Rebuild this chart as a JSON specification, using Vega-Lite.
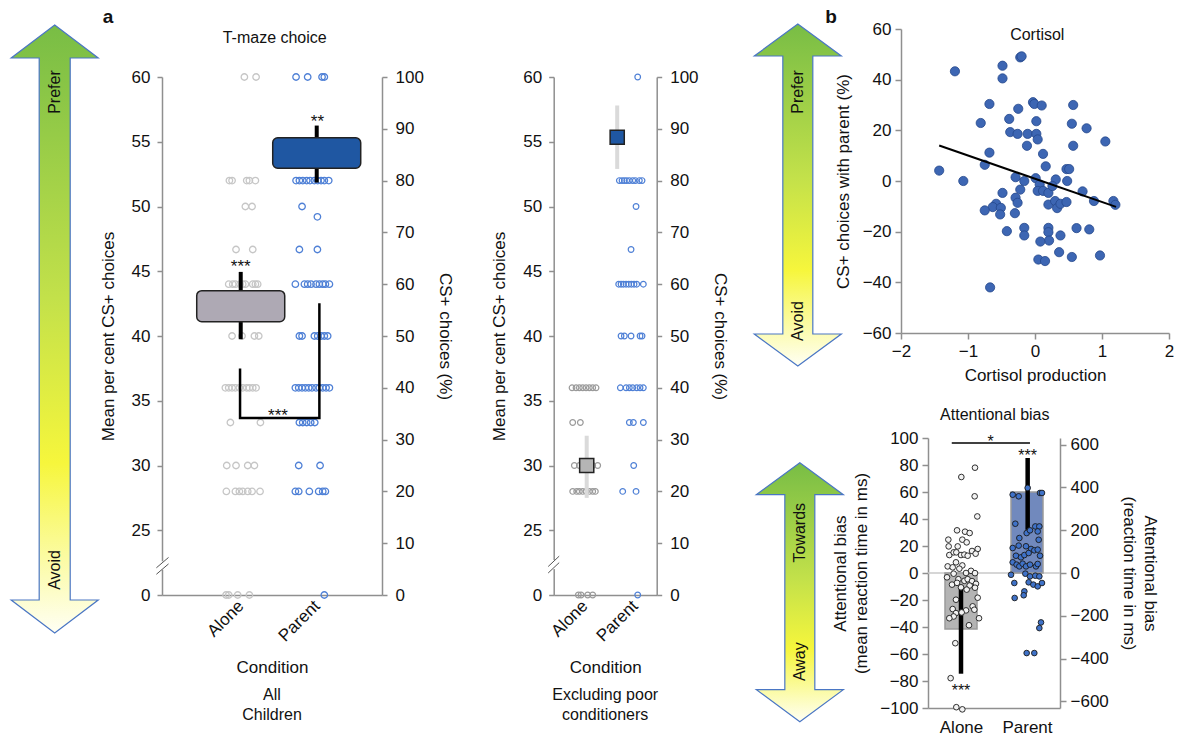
{
"$schema":"https://vega.github.io/schema/vega-lite/v6.json",
"background":"white",
"padding":{"left":8,"top":7,"right":0,"bottom":0},
"config":{
 "font":"Liberation Sans",
 "view":{"stroke":null},
 "axis":{"grid":false,"labelFontSize":17,"titleFontSize":17,"titleFontWeight":"normal","labelColor":"#111","titleColor":"#111","domainColor":"#8f8f8f","tickColor":"#8f8f8f","domainWidth":1.5,"tickWidth":1.5,"tickSize":6,"labelPadding":4,"labelFlush":false,"labelOverlap":false,"titleLineHeight":21},
 "title":{"fontWeight":"normal","fontSize":16,"color":"#111"},
 "text":{"font":"Liberation Sans","color":"#111"}
},
"datasets":{
 "a1dots":[
  {"cond":"Alone","x":1.048,"pct":100},{"cond":"Alone","x":1.202,"pct":100},
  {"cond":"Alone","x":0.851,"pct":80},{"cond":"Alone","x":0.886,"pct":80},{"cond":"Alone","x":1.079,"pct":80},{"cond":"Alone","x":1.114,"pct":80},{"cond":"Alone","x":1.193,"pct":80},
  {"cond":"Alone","x":1.061,"pct":75},{"cond":"Alone","x":1.149,"pct":75},
  {"cond":"Alone","x":0.938,"pct":66.7},{"cond":"Alone","x":1.158,"pct":66.7},
  {"cond":"Alone","x":0.842,"pct":60},{"cond":"Alone","x":0.895,"pct":60},{"cond":"Alone","x":0.93,"pct":60},{"cond":"Alone","x":0.991,"pct":60},{"cond":"Alone","x":1.026,"pct":60},{"cond":"Alone","x":1.061,"pct":60},{"cond":"Alone","x":1.158,"pct":60},{"cond":"Alone","x":1.193,"pct":60},{"cond":"Alone","x":1.223,"pct":60},
  {"cond":"Alone","x":0.886,"pct":50},{"cond":"Alone","x":1.017,"pct":50},{"cond":"Alone","x":1.18,"pct":50},{"cond":"Alone","x":1.237,"pct":50},
  {"cond":"Alone","x":0.798,"pct":40},{"cond":"Alone","x":0.842,"pct":40},{"cond":"Alone","x":0.886,"pct":40},{"cond":"Alone","x":0.93,"pct":40},{"cond":"Alone","x":0.982,"pct":40},{"cond":"Alone","x":1.026,"pct":40},{"cond":"Alone","x":1.079,"pct":40},{"cond":"Alone","x":1.114,"pct":40},{"cond":"Alone","x":1.158,"pct":40},{"cond":"Alone","x":1.202,"pct":40},
  {"cond":"Alone","x":0.864,"pct":33.3},{"cond":"Alone","x":1.259,"pct":33.3},
  {"cond":"Alone","x":0.816,"pct":25},{"cond":"Alone","x":0.938,"pct":25},{"cond":"Alone","x":1.092,"pct":25},{"cond":"Alone","x":1.18,"pct":25},
  {"cond":"Alone","x":0.811,"pct":20},{"cond":"Alone","x":0.93,"pct":20},{"cond":"Alone","x":0.982,"pct":20},{"cond":"Alone","x":1.026,"pct":20},{"cond":"Alone","x":1.092,"pct":20},{"cond":"Alone","x":1.149,"pct":20},{"cond":"Alone","x":1.254,"pct":20},
  {"cond":"Alone","x":0.807,"pct":0},{"cond":"Alone","x":0.842,"pct":0},{"cond":"Alone","x":0.96,"pct":0},{"cond":"Alone","x":1.114,"pct":0},
  {"cond":"Parent","x":1.728,"pct":100},{"cond":"Parent","x":1.881,"pct":100},{"cond":"Parent","x":2.07,"pct":100},{"cond":"Parent","x":2.1,"pct":100},
  {"cond":"Parent","x":1.728,"pct":80},{"cond":"Parent","x":1.772,"pct":80},{"cond":"Parent","x":1.816,"pct":80},{"cond":"Parent","x":1.868,"pct":80},{"cond":"Parent","x":1.912,"pct":80},{"cond":"Parent","x":1.969,"pct":80},{"cond":"Parent","x":2.013,"pct":80},{"cond":"Parent","x":2.057,"pct":80},{"cond":"Parent","x":2.1,"pct":80},{"cond":"Parent","x":2.158,"pct":80},
  {"cond":"Parent","x":1.807,"pct":75},{"cond":"Parent","x":2.009,"pct":73},
  {"cond":"Parent","x":1.772,"pct":66.7},{"cond":"Parent","x":2.009,"pct":66.7},
  {"cond":"Parent","x":1.719,"pct":60},{"cond":"Parent","x":1.838,"pct":60},{"cond":"Parent","x":1.881,"pct":60},{"cond":"Parent","x":1.925,"pct":60},{"cond":"Parent","x":1.991,"pct":60},{"cond":"Parent","x":2.035,"pct":60},{"cond":"Parent","x":2.079,"pct":60},{"cond":"Parent","x":2.114,"pct":60},{"cond":"Parent","x":2.167,"pct":60},
  {"cond":"Parent","x":1.772,"pct":50},{"cond":"Parent","x":1.807,"pct":50},{"cond":"Parent","x":1.969,"pct":50},{"cond":"Parent","x":2.013,"pct":50},{"cond":"Parent","x":2.057,"pct":50},{"cond":"Parent","x":2.1,"pct":50},{"cond":"Parent","x":2.144,"pct":50},
  {"cond":"Parent","x":1.719,"pct":40},{"cond":"Parent","x":1.763,"pct":40},{"cond":"Parent","x":1.807,"pct":40},{"cond":"Parent","x":1.851,"pct":40},{"cond":"Parent","x":1.895,"pct":40},{"cond":"Parent","x":1.938,"pct":40},{"cond":"Parent","x":1.991,"pct":40},{"cond":"Parent","x":2.035,"pct":40},{"cond":"Parent","x":2.079,"pct":40},{"cond":"Parent","x":2.123,"pct":40},{"cond":"Parent","x":2.167,"pct":40},
  {"cond":"Parent","x":1.772,"pct":33.3},{"cond":"Parent","x":1.816,"pct":33.3},{"cond":"Parent","x":1.868,"pct":33.3},{"cond":"Parent","x":1.921,"pct":33.3},{"cond":"Parent","x":1.974,"pct":33.3},
  {"cond":"Parent","x":1.763,"pct":25},{"cond":"Parent","x":2.044,"pct":25},
  {"cond":"Parent","x":1.719,"pct":20},{"cond":"Parent","x":1.763,"pct":20},{"cond":"Parent","x":1.903,"pct":20},{"cond":"Parent","x":2.026,"pct":20},{"cond":"Parent","x":2.079,"pct":20},{"cond":"Parent","x":2.114,"pct":20},
  {"cond":"Parent","x":2.1,"pct":0}
 ],
 "a1means":[
  {"cond":"Alone","x":1,"lo":41.1,"hi":43.5,"elo":39.75,"ehi":44.95},
  {"cond":"Parent","x":2,"lo":52.95,"hi":55.3,"elo":51.85,"ehi":56.25}
 ],
 "a1bracket":[{"x":0.991,"y":37.5,"o":1},{"x":0.991,"y":33.66,"o":2},{"x":2.035,"y":33.66,"o":3},{"x":2.035,"y":42.53,"o":4}],
 "a1stars":[{"x":1,"y":44.95,"t":"***"},{"x":2.01,"y":56.17,"t":"**"},{"x":1.49,"y":33.45,"t":"***"}],
 "a2dots":[
  {"cond":"Alone","x":0.747,"pct":40},{"cond":"Alone","x":0.827,"pct":40},{"cond":"Alone","x":0.893,"pct":40},{"cond":"Alone","x":0.96,"pct":40},{"cond":"Alone","x":1.027,"pct":40},{"cond":"Alone","x":1.093,"pct":40},{"cond":"Alone","x":1.16,"pct":40},{"cond":"Alone","x":1.227,"pct":40},
  {"cond":"Alone","x":0.76,"pct":33.3},{"cond":"Alone","x":0.913,"pct":33.3},
  {"cond":"Alone","x":0.793,"pct":25},{"cond":"Alone","x":0.893,"pct":25},{"cond":"Alone","x":0.96,"pct":25},{"cond":"Alone","x":1.16,"pct":25},{"cond":"Alone","x":1.26,"pct":25},
  {"cond":"Alone","x":0.76,"pct":20},{"cond":"Alone","x":0.84,"pct":20},{"cond":"Alone","x":0.893,"pct":20},{"cond":"Alone","x":0.96,"pct":20},{"cond":"Alone","x":1.027,"pct":20},{"cond":"Alone","x":1.093,"pct":20},{"cond":"Alone","x":1.16,"pct":20},{"cond":"Alone","x":1.213,"pct":20},
  {"cond":"Alone","x":0.873,"pct":0},{"cond":"Alone","x":0.927,"pct":0},{"cond":"Alone","x":1.06,"pct":0},{"cond":"Alone","x":1.16,"pct":0},
  {"cond":"Parent","x":2.06,"pct":100},
  {"cond":"Parent","x":1.693,"pct":80},{"cond":"Parent","x":1.747,"pct":80},{"cond":"Parent","x":1.793,"pct":80},{"cond":"Parent","x":1.84,"pct":80},{"cond":"Parent","x":1.893,"pct":80},{"cond":"Parent","x":1.96,"pct":80},{"cond":"Parent","x":2.013,"pct":80},{"cond":"Parent","x":2.093,"pct":80},{"cond":"Parent","x":2.147,"pct":80},
  {"cond":"Parent","x":2.027,"pct":75},{"cond":"Parent","x":1.927,"pct":66.7},
  {"cond":"Parent","x":1.68,"pct":60},{"cond":"Parent","x":1.727,"pct":60},{"cond":"Parent","x":1.773,"pct":60},{"cond":"Parent","x":1.827,"pct":60},{"cond":"Parent","x":1.88,"pct":60},{"cond":"Parent","x":1.933,"pct":60},{"cond":"Parent","x":1.987,"pct":60},{"cond":"Parent","x":2.04,"pct":60},{"cond":"Parent","x":2.173,"pct":60},
  {"cond":"Parent","x":1.727,"pct":50},{"cond":"Parent","x":1.793,"pct":50},{"cond":"Parent","x":1.927,"pct":50},{"cond":"Parent","x":2.107,"pct":50},{"cond":"Parent","x":2.147,"pct":50},
  {"cond":"Parent","x":1.713,"pct":40},{"cond":"Parent","x":1.827,"pct":40},{"cond":"Parent","x":1.893,"pct":40},{"cond":"Parent","x":1.96,"pct":40},{"cond":"Parent","x":2.04,"pct":40},{"cond":"Parent","x":2.107,"pct":40},{"cond":"Parent","x":2.173,"pct":40},
  {"cond":"Parent","x":1.893,"pct":33.3},{"cond":"Parent","x":1.973,"pct":33.3},{"cond":"Parent","x":2.173,"pct":33.3},
  {"cond":"Parent","x":1.98,"pct":25},
  {"cond":"Parent","x":1.76,"pct":20},{"cond":"Parent","x":2.027,"pct":20},
  {"cond":"Parent","x":2.06,"pct":0}
 ],
 "a2means":[
  {"cond":"Alone","x":1.04,"m":30.0,"elo":27.5,"ehi":32.3},
  {"cond":"Parent","x":1.65,"m":55.35,"elo":52.9,"ehi":57.8}
 ],
 "cort":[
  {"x":-1.195,"y":43.3},{"x":-0.485,"y":45.5},{"x":-0.485,"y":40.5},{"x":-0.22,"y":48.8},{"x":-0.2,"y":49.2},{"x":-0.68,"y":30.4},{"x":-0.03,"y":31.1},{"x":-0.01,"y":30.4},{"x":0.1,"y":29.8},{"x":0.57,"y":30.0},
  {"x":-0.25,"y":28.5},{"x":-0.385,"y":24.5},{"x":-0.81,"y":22.9},{"x":0.02,"y":23.6},{"x":0.55,"y":22.6},{"x":0.77,"y":20.8},{"x":-0.37,"y":19.3},{"x":-0.26,"y":18.6},{"x":-0.11,"y":18.6},{"x":0.02,"y":18.6},
  {"x":0.04,"y":16.4},{"x":-0.12,"y":13.9},{"x":0.57,"y":13.9},{"x":1.05,"y":15.6},{"x":-0.68,"y":11.2},{"x":0.12,"y":10.7},{"x":-0.75,"y":6.4},{"x":0.16,"y":5.8},{"x":-1.43,"y":4.1},{"x":0.47,"y":4.7},
  {"x":0.51,"y":4.7},{"x":-1.07,"y":0},{"x":-0.29,"y":1.5},{"x":-0.16,"y":0},{"x":0.01,"y":1.1},{"x":0.07,"y":-1.4},{"x":0.31,"y":0.6},{"x":0.48,"y":0},{"x":-0.22,"y":-3.4},{"x":0.04,"y":-3.9},
  {"x":0.12,"y":-3.9},{"x":0.2,"y":-4.7},{"x":0.26,"y":-2.0},{"x":0.71,"y":-4.1},{"x":-0.485,"y":-4.7},{"x":-0.29,"y":-6.6},{"x":-0.26,"y":-8.6},{"x":-0.58,"y":-9.0},{"x":-0.63,"y":-10.3},{"x":-0.51,"y":-10.6},
  {"x":-0.75,"y":-11.6},{"x":-0.52,"y":-13.2},{"x":-0.3,"y":-12.7},{"x":0.2,"y":-9.3},{"x":0.3,"y":-7.9},{"x":0.33,"y":-10.7},{"x":0.38,"y":-9.0},{"x":0.47,"y":-8.3},{"x":0.88,"y":-7.9},{"x":1.17,"y":-7.9},
  {"x":1.2,"y":-9.4},{"x":-0.42,"y":-19.8},{"x":-0.16,"y":-18.5},{"x":-0.16,"y":-21.5},{"x":0.2,"y":-18.5},{"x":0.2,"y":-20.2},{"x":0.21,"y":-23.5},{"x":0.08,"y":-23.9},{"x":0.38,"y":-21.5},{"x":0.62,"y":-18.6},
  {"x":0.81,"y":-19.1},{"x":0.36,"y":-28.1},{"x":0.55,"y":-30.0},{"x":0.97,"y":-29.4},{"x":0.05,"y":-31.0},{"x":0.15,"y":-31.6},{"x":-0.67,"y":-42.0}
 ],
 "attndots":[
  {"cond":"Alone","x":1.005,"v":71.1},{"cond":"Alone","x":1.212,"v":78},{"cond":"Alone","x":1.207,"v":56.8},{"cond":"Alone","x":1.247,"v":41.9},{"cond":"Alone","x":0.808,"v":24.7},{"cond":"Alone","x":0.94,"v":31.6},{"cond":"Alone","x":1.061,"v":30.6},{"cond":"Alone","x":1.131,"v":29.6},{"cond":"Alone","x":1.02,"v":24.7},{"cond":"Alone","x":1.086,"v":22.7},
  {"cond":"Alone","x":0.813,"v":19.7},{"cond":"Alone","x":0.95,"v":19.7},{"cond":"Alone","x":1.253,"v":17.8},{"cond":"Alone","x":1.167,"v":16.3},{"cond":"Alone","x":0.823,"v":13.3},{"cond":"Alone","x":0.889,"v":15.3},{"cond":"Alone","x":0.929,"v":15.3},{"cond":"Alone","x":1.0,"v":13.3},{"cond":"Alone","x":1.051,"v":13.6},{"cond":"Alone","x":1.101,"v":12.8},
  {"cond":"Alone","x":1.222,"v":14.3},{"cond":"Alone","x":0.924,"v":7.9},{"cond":"Alone","x":0.798,"v":4.9},{"cond":"Alone","x":0.874,"v":4.2},{"cond":"Alone","x":1.02,"v":5.6},{"cond":"Alone","x":0.975,"v":3.2},{"cond":"Alone","x":1.152,"v":1.6},{"cond":"Alone","x":0.788,"v":-3.2},{"cond":"Alone","x":0.889,"v":-0.5},{"cond":"Alone","x":1.076,"v":0},
  {"cond":"Alone","x":1.212,"v":-0.1},{"cond":"Alone","x":0.96,"v":-4.6},{"cond":"Alone","x":1.051,"v":-5.8},{"cond":"Alone","x":1.101,"v":-4.6},{"cond":"Alone","x":1.167,"v":-6.0},{"cond":"Alone","x":0.864,"v":-8.6},{"cond":"Alone","x":0.94,"v":-7.3},{"cond":"Alone","x":1.131,"v":-9.3},{"cond":"Alone","x":1.227,"v":-8},{"cond":"Alone","x":1.0,"v":-10.6},
  {"cond":"Alone","x":1.086,"v":-12.3},{"cond":"Alone","x":1.212,"v":-10.9},{"cond":"Alone","x":1.253,"v":-18.3},{"cond":"Alone","x":0.924,"v":-19.8},{"cond":"Alone","x":0.874,"v":-26.7},{"cond":"Alone","x":1.177,"v":-24.7},{"cond":"Alone","x":1.202,"v":-27.2},{"cond":"Alone","x":1.076,"v":-27.7},{"cond":"Alone","x":0.924,"v":-29.7},{"cond":"Alone","x":1.01,"v":-29.2},
  {"cond":"Alone","x":0.889,"v":-32.2},{"cond":"Alone","x":0.823,"v":-33.5},{"cond":"Alone","x":1.273,"v":-33.5},{"cond":"Alone","x":1.121,"v":-38.7},{"cond":"Alone","x":0.914,"v":-52},{"cond":"Alone","x":0.843,"v":-77.9},{"cond":"Alone","x":0.929,"v":-99.4},{"cond":"Alone","x":1.02,"v":-101},
  {"cond":"Parent","x":2.01,"v":63},{"cond":"Parent","x":1.783,"v":58},{"cond":"Parent","x":1.874,"v":56.8},{"cond":"Parent","x":2.197,"v":59.3},{"cond":"Parent","x":2.227,"v":59.3},{"cond":"Parent","x":1.823,"v":36.5},{"cond":"Parent","x":1.884,"v":25.9},{"cond":"Parent","x":1.995,"v":29.6},{"cond":"Parent","x":2.045,"v":31.6},{"cond":"Parent","x":2.126,"v":34.5},
  {"cond":"Parent","x":2.187,"v":34.5},{"cond":"Parent","x":2.162,"v":30.8},{"cond":"Parent","x":2.177,"v":24.6},{"cond":"Parent","x":1.783,"v":18.5},{"cond":"Parent","x":1.874,"v":20.3},{"cond":"Parent","x":1.985,"v":19.8},{"cond":"Parent","x":2.061,"v":17.8},{"cond":"Parent","x":2.111,"v":16.8},{"cond":"Parent","x":2.162,"v":17.3},{"cond":"Parent","x":2.197,"v":12.8},
  {"cond":"Parent","x":1.833,"v":12.8},{"cond":"Parent","x":1.909,"v":11.6},{"cond":"Parent","x":1.96,"v":13.3},{"cond":"Parent","x":2.025,"v":14.8},{"cond":"Parent","x":1.783,"v":7.9},{"cond":"Parent","x":1.843,"v":6.2},{"cond":"Parent","x":1.884,"v":4.9},{"cond":"Parent","x":1.934,"v":6.9},{"cond":"Parent","x":1.985,"v":4.9},{"cond":"Parent","x":2.045,"v":6.2},
  {"cond":"Parent","x":2.136,"v":4.9},{"cond":"Parent","x":2.162,"v":6.7},{"cond":"Parent","x":1.758,"v":-1.3},{"cond":"Parent","x":1.975,"v":-0.5},{"cond":"Parent","x":2.045,"v":-2.5},{"cond":"Parent","x":2.126,"v":-2.0},{"cond":"Parent","x":2.187,"v":-2.5},{"cond":"Parent","x":1.808,"v":-7.4},{"cond":"Parent","x":2.025,"v":-6.9},{"cond":"Parent","x":2.096,"v":-8.6},
  {"cond":"Parent","x":2.162,"v":-9.9},{"cond":"Parent","x":2.227,"v":-7.4},{"cond":"Parent","x":1.96,"v":-13.6},{"cond":"Parent","x":1.95,"v":-16.5},{"cond":"Parent","x":1.813,"v":-18.5},{"cond":"Parent","x":2.212,"v":-36.6},{"cond":"Parent","x":2.187,"v":-40.8},{"cond":"Parent","x":1.995,"v":-59.3},{"cond":"Parent","x":2.111,"v":-59.3}
 ]
},
"spacing":22,
"hconcat":[
 {
  "spacing":-27,
  "vconcat":[
   {
    "width":220,"height":20,
    "layer":[
     {"data":{"values":[{"x":-0.816,"y":1.3,"t":"a"}]},
      "mark":{"type":"text","fontSize":19,"fontWeight":"bold","baseline":"alphabetic","align":"left"},
      "encoding":{
       "x":{"field":"x","type":"quantitative","scale":{"domain":[-0.036,2.859],"nice":false,"zero":false,"padding":0},"axis":null},
       "y":{"field":"y","type":"quantitative","scale":{"domain":[0,1],"nice":false},"axis":null},
       "text":{"field":"t"}}},
     {"data":{"values":[{"x":1.447,"y":0.3,"t":"T-maze choice"}]},
      "mark":{"type":"text","fontSize":16,"baseline":"alphabetic","align":"center"},
      "encoding":{
       "x":{"field":"x","type":"quantitative","scale":{"domain":[-0.036,2.859],"nice":false,"zero":false,"padding":0},"axis":null},
       "y":{"field":"y","type":"quantitative","scale":{"domain":[0,1],"nice":false},"axis":null},
       "text":{"field":"t"}}}
    ]
   },
   {
    "bounds":"flush","spacing":171.7,
    "hconcat":[
     {
      "width":220,"height":518,
      "title":{"text":["All","Children"],"orient":"bottom","frame":"group","fontSize":16,"lineHeight":20,"baseline":"top","offset":12},
      "resolve":{"scale":{"y":"independent"}},
      "layer":[
       {"data":{"name":"a1dots"},
        "mark":{"type":"point","size":42,"strokeWidth":1.3,"filled":false,"opacity":1},
        "encoding":{
         "x":{"field":"x","type":"quantitative","scale":{"domain":[-0.036,2.859],"nice":false,"zero":false,"padding":0},"axis":{"values":[1,2],"labelExpr":"datum.value == 1 ? 'Alone' : 'Parent'","labelAngle":-45,"labelAlign":"right","labelBaseline":"middle","ticks":false,"labelPadding":8,"title":"Condition","titleY":64,"titleBaseline":"top"}},
         "y":{"field":"pct","type":"quantitative","scale":{"domain":[0,100],"nice":false,"zero":false},"axis":{"orient":"right","values":[0,10,20,30,40,50,60,70,80,90,100],"tickCount":11,"title":"CS+ choices (%)","tickSize":5,"labelPadding":8,"titlePadding":12}},
         "stroke":{"condition":{"test":"datum.cond == 'Alone'","value":"#c6c6c6"},"value":"#4f80d6"}
        }},
       {"layer":[
         {"data":{"name":"a1means"},
          "mark":{"type":"rule","strokeWidth":4,"color":"#000"},
          "encoding":{
           "x":{"field":"x","type":"quantitative","scale":{"domain":[-0.036,2.859],"nice":false,"zero":false,"padding":0}},
           "y":{"field":"elo","type":"quantitative","scale":{"domain":[20,60],"nice":false,"zero":false},"axis":{"orient":"left","values":[20,25,30,35,40,45,50,55,60],"tickCount":9,"labelExpr":"datum.value == 20 ? '0' : datum.label","title":"Mean per cent CS+ choices","tickSize":5,"labelPadding":7,"titlePadding":14}},
           "y2":{"field":"ehi"}}},
         {"data":{"name":"a1means"},
          "mark":{"type":"bar","size":88,"cornerRadius":5,"stroke":"#222","strokeWidth":1.5},
          "encoding":{
           "x":{"field":"x","type":"quantitative","scale":{"domain":[-0.036,2.859],"nice":false,"zero":false,"padding":0}},
           "y":{"field":"lo","type":"quantitative","scale":{"domain":[20,60],"nice":false,"zero":false}},
           "y2":{"field":"hi"},
           "fill":{"condition":{"test":"datum.cond == 'Alone'","value":"#aea9b4"},"value":"#1f57a2"}}},
         {"data":{"name":"a1bracket"},
          "mark":{"type":"line","color":"#000","strokeWidth":2.5},
          "encoding":{
           "x":{"field":"x","type":"quantitative","scale":{"domain":[-0.036,2.859],"nice":false,"zero":false,"padding":0}},
           "y":{"field":"y","type":"quantitative","scale":{"domain":[20,60],"nice":false,"zero":false}},
           "order":{"field":"o"}}},
         {"data":{"name":"a1stars"},
          "mark":{"type":"text","fontSize":17,"baseline":"alphabetic"},
          "encoding":{
           "x":{"field":"x","type":"quantitative","scale":{"domain":[-0.036,2.859],"nice":false,"zero":false,"padding":0}},
           "y":{"field":"y","type":"quantitative","scale":{"domain":[20,60],"nice":false,"zero":false}},
           "text":{"field":"t"}}},
         {"data":{"values":[{"x1":-0.036,"x2":-0.036,"y1":21.95,"y2":22.6}]},
          "mark":{"type":"rule","color":"white","strokeWidth":4},
          "encoding":{
           "x":{"field":"x1","type":"quantitative","scale":{"domain":[-0.036,2.859],"nice":false,"zero":false,"padding":0}},"x2":{"field":"x2"},
           "y":{"field":"y1","type":"quantitative","scale":{"domain":[20,60],"nice":false,"zero":false}},"y2":{"field":"y2"}}},
         {"data":{"values":[{"x1":-0.11,"x2":0.05,"y1":21.6,"y2":22.4},{"x1":-0.11,"x2":0.05,"y1":22.1,"y2":22.9}]},
          "mark":{"type":"rule","color":"#555","strokeWidth":1},
          "encoding":{
           "x":{"field":"x1","type":"quantitative","scale":{"domain":[-0.036,2.859],"nice":false,"zero":false,"padding":0}},"x2":{"field":"x2"},
           "y":{"field":"y1","type":"quantitative","scale":{"domain":[20,60],"nice":false,"zero":false}},"y2":{"field":"y2"}}},
         {"data":{"values":[{"x":-1.448,"y":40.54}]},
          "mark":{"type":"point","shape":"M0,-1L0.1431,-0.8914L0.051,-0.8914L0.051,0.8914L0.1431,0.8914L0,1L-0.1431,0.8914L-0.051,0.8914L-0.051,-0.8914L-0.1431,-0.8914Z","size":369664,"filled":true,"opacity":1,"fill":{"gradient":"linear","x1":0,"y1":0,"x2":0,"y2":1,"stops":[{"offset":0,"color":"#78bd45"},{"offset":0.45,"color":"#c3e14a"},{"offset":0.72,"color":"#f6f63c"},{"offset":1,"color":"#fffff4"}]},"stroke":"#4a76c4","strokeWidth":1.2},
          "encoding":{
           "x":{"field":"x","type":"quantitative","scale":{"domain":[-0.036,2.859],"nice":false,"zero":false,"padding":0}},
           "y":{"field":"y","type":"quantitative","scale":{"domain":[20,60],"nice":false,"zero":false}}}},
         {"data":{"values":[{"x":-1.448,"y":58.84,"label":"Prefer"},{"x":-1.448,"y":21.93,"label":"Avoid"}]},
          "mark":{"type":"text","angle":270,"fontSize":16,"baseline":"middle","align":"center"},
          "encoding":{
           "x":{"field":"x","type":"quantitative","scale":{"domain":[-0.036,2.859],"nice":false,"zero":false,"padding":0}},
           "y":{"field":"y","type":"quantitative","scale":{"domain":[20,60],"nice":false,"zero":false}},
           "text":{"field":"label"}}}
       ]}
      ]
     },
     {
      "width":103,"height":518,
      "title":{"text":["Excluding poor","conditioners"],"orient":"bottom","frame":"group","fontSize":16,"lineHeight":20,"baseline":"top","offset":12},
      "resolve":{"scale":{"y":"independent"}},
      "layer":[
       {"data":{"name":"a2dots"},
        "mark":{"type":"point","size":32,"strokeWidth":1.2,"filled":false,"opacity":1},
        "encoding":{
         "x":{"field":"x","type":"quantitative","scale":{"domain":[0.38,2.44],"nice":false,"zero":false,"padding":0},"axis":{"values":[1,2],"labelExpr":"datum.value == 1 ? 'Alone' : 'Parent'","labelAngle":-45,"labelAlign":"right","labelBaseline":"middle","ticks":false,"labelPadding":8,"title":"Condition","titleY":64,"titleBaseline":"top"}},
         "y":{"field":"pct","type":"quantitative","scale":{"domain":[0,100],"nice":false,"zero":false},"axis":{"orient":"right","values":[0,10,20,30,40,50,60,70,80,90,100],"tickCount":11,"title":"CS+ choices (%)","tickSize":5,"labelPadding":8,"titlePadding":12}},
         "stroke":{"condition":{"test":"datum.cond == 'Alone'","value":"#9a9a9a"},"value":"#4f80d6"}
        }},
       {"layer":[
         {"data":{"name":"a2means"},
          "mark":{"type":"rule","strokeWidth":4,"color":"#dadada"},
          "encoding":{
           "x":{"field":"x","type":"quantitative","scale":{"domain":[0.38,2.44],"nice":false,"zero":false,"padding":0}},
           "y":{"field":"elo","type":"quantitative","scale":{"domain":[20,60],"nice":false,"zero":false},"axis":{"orient":"left","values":[20,25,30,35,40,45,50,55,60],"tickCount":9,"labelExpr":"datum.value == 20 ? '0' : datum.label","title":"Mean per cent CS+ choices","tickSize":5,"labelPadding":7,"titlePadding":14}},
           "y2":{"field":"ehi"}}},
         {"data":{"name":"a2means"},
          "mark":{"type":"point","shape":"square","size":200,"filled":true,"opacity":1,"stroke":"#222","strokeWidth":1.5},
          "encoding":{
           "x":{"field":"x","type":"quantitative","scale":{"domain":[0.38,2.44],"nice":false,"zero":false,"padding":0}},
           "y":{"field":"m","type":"quantitative","scale":{"domain":[20,60],"nice":false,"zero":false}},
           "fill":{"condition":{"test":"datum.cond == 'Alone'","value":"#b5b5b5"},"value":"#1f57a2"}}},
         {"data":{"values":[{"x1":0.38,"x2":0.38,"y1":22.0,"y2":22.7}]},
          "mark":{"type":"rule","color":"white","strokeWidth":4},
          "encoding":{
           "x":{"field":"x1","type":"quantitative","scale":{"domain":[0.38,2.44],"nice":false,"zero":false,"padding":0}},"x2":{"field":"x2"},
           "y":{"field":"y1","type":"quantitative","scale":{"domain":[20,60],"nice":false,"zero":false}},"y2":{"field":"y2"}}},
         {"data":{"values":[{"x1":0.27,"x2":0.49,"y1":21.7,"y2":22.5},{"x1":0.27,"x2":0.49,"y1":22.2,"y2":23.0}]},
          "mark":{"type":"rule","color":"#555","strokeWidth":1},
          "encoding":{
           "x":{"field":"x1","type":"quantitative","scale":{"domain":[0.38,2.44],"nice":false,"zero":false,"padding":0}},"x2":{"field":"x2"},
           "y":{"field":"y1","type":"quantitative","scale":{"domain":[20,60],"nice":false,"zero":false}},"y2":{"field":"y2"}}}
       ]}
      ]
     }
    ]
   }
  ]
 },
 {
  "spacing":23,
  "vconcat":[
   {
    "width":268,"height":304,
    "layer":[
     {"data":{"name":"cort"},
      "mark":{"type":"point","filled":true,"size":85,"fill":"#3d66b3","stroke":"#24488c","strokeWidth":0.8,"opacity":1},
      "encoding":{
       "x":{"field":"x","type":"quantitative","scale":{"domain":[-2,2],"nice":false},"axis":{"values":[-2,-1,0,1,2],"tickCount":5,"format":"d","title":"Cortisol production","titlePadding":8}},
       "y":{"field":"y","type":"quantitative","scale":{"domain":[-60,60],"nice":false},"axis":{"values":[-60,-40,-20,0,20,40,60],"tickCount":7,"format":"d","title":"CS+ choices with parent (%)","titlePadding":10}}}},
     {"data":{"values":[{"x":-1.43,"y":14.0},{"x":1.21,"y":-10.2}]},
      "mark":{"type":"line","color":"#000","strokeWidth":2},
      "encoding":{
       "x":{"field":"x","type":"quantitative","scale":{"domain":[-2,2],"nice":false}},
       "y":{"field":"y","type":"quantitative","scale":{"domain":[-60,60],"nice":false}}}},
     {"data":{"values":[{"x":-3.54,"y":-5.53}]},
      "mark":{"type":"point","shape":"M0,-1L0.2544,-0.8129L0.0877,-0.8129L0.0877,0.8129L0.2544,0.8129L0,1L-0.2544,0.8129L-0.0877,0.8129L-0.0877,-0.8129L-0.2544,-0.8129Z","size":116964,"filled":true,"opacity":1,"fill":{"gradient":"linear","x1":0,"y1":0,"x2":0,"y2":1,"stops":[{"offset":0,"color":"#78bd45"},{"offset":0.45,"color":"#c3e14a"},{"offset":0.72,"color":"#f6f63c"},{"offset":1,"color":"#fffff4"}]},"stroke":"#4a76c4","strokeWidth":1.2},
      "encoding":{
       "x":{"field":"x","type":"quantitative","scale":{"domain":[-2,2],"nice":false}},
       "y":{"field":"y","type":"quantitative","scale":{"domain":[-60,60],"nice":false}}}},
     {"data":{"values":[{"x":-3.54,"y":35.13,"label":"Prefer"},{"x":-3.54,"y":-55.28,"label":"Avoid"}]},
      "mark":{"type":"text","angle":270,"fontSize":16,"baseline":"middle","align":"center"},
      "encoding":{
       "x":{"field":"x","type":"quantitative","scale":{"domain":[-2,2],"nice":false}},
       "y":{"field":"y","type":"quantitative","scale":{"domain":[-60,60],"nice":false}},
       "text":{"field":"label"}}},
     {"data":{"values":[{"x":-3.13,"y":62.37,"t":"b"}]},
      "mark":{"type":"text","fontSize":19,"fontWeight":"bold","baseline":"alphabetic","align":"left"},
      "encoding":{
       "x":{"field":"x","type":"quantitative","scale":{"domain":[-2,2],"nice":false}},
       "y":{"field":"y","type":"quantitative","scale":{"domain":[-60,60],"nice":false}},
       "text":{"field":"t"}}},
     {"data":{"values":[{"x":0.034,"y":55.66,"t":"Cortisol"}]},
      "mark":{"type":"text","fontSize":16,"baseline":"alphabetic","align":"center"},
      "encoding":{
       "x":{"field":"x","type":"quantitative","scale":{"domain":[-2,2],"nice":false}},
       "y":{"field":"y","type":"quantitative","scale":{"domain":[-60,60],"nice":false}},
       "text":{"field":"t"}}}
    ]
   },
   {
    "spacing":-149,
    "hconcat":[
     {"width":1,"height":1,"data":{"values":[{"s":1}]},"mark":{"type":"point","size":1,"opacity":0},"encoding":{}},
     {
      "width":132,"height":270,
      "resolve":{"scale":{"y":"independent"}},
      "layer":[
       {"layer":[
         {"data":{"values":[{"z":0}]},
          "mark":{"type":"rule","color":"#c9c9c9","strokeWidth":1.5},
          "encoding":{"y":{"field":"z","type":"quantitative","scale":{"domain":[-100,100],"nice":false},"axis":{"orient":"left","values":[-100,-80,-60,-40,-20,0,20,40,60,80,100],"tickCount":11,"format":"d","labelOverlap":false,"title":["Attentional bias","(mean reaction time in ms)"],"titlePadding":9}}}},
         {"data":{"values":[{"cond":"Alone","x":1,"m":-41.5},{"cond":"Parent","x":2,"m":60}]},
          "mark":{"type":"bar","size":32,"stroke":"#9b9b9b","strokeWidth":1.5},
          "encoding":{
           "x":{"field":"x","type":"quantitative","scale":{"domain":[0.5,2.5],"nice":false,"zero":false,"padding":0}},
           "y":{"field":"m","type":"quantitative","scale":{"domain":[-100,100],"nice":false}},
           "y2":{"datum":0},
           "fill":{"condition":{"test":"datum.cond == 'Alone'","value":"#b4b4b4"},"value":"#7189bd"}}},
         {"data":{"values":[{"x":1,"lo":-74.6,"hi":-9.2},{"x":2.01,"lo":32,"hi":85.2}]},
          "mark":{"type":"rule","color":"#000","strokeWidth":4.5},
          "encoding":{
           "x":{"field":"x","type":"quantitative","scale":{"domain":[0.5,2.5],"nice":false,"zero":false,"padding":0}},
           "y":{"field":"lo","type":"quantitative","scale":{"domain":[-100,100],"nice":false}},
           "y2":{"field":"hi"}}},
         {"data":{"name":"attndots"},
          "mark":{"type":"point","filled":true,"size":32,"stroke":"#1a1a1a","strokeWidth":0.9,"opacity":1},
          "encoding":{
           "x":{"field":"x","type":"quantitative","scale":{"domain":[0.5,2.5],"nice":false,"zero":false,"padding":0},"axis":{"values":[1,2],"labelExpr":"datum.value == 1 ? 'Alone' : 'Parent'","labelAngle":0,"ticks":false,"labelPadding":11,"title":null}},
           "y":{"field":"v","type":"quantitative","scale":{"domain":[-100,100],"nice":false}},
           "fill":{"condition":{"test":"datum.cond == 'Alone'","value":"#f2f2f2"},"value":"#3f72c8"}}},
         {"data":{"values":[{"x1":0.86,"x2":2.045,"y":96.3}]},
          "mark":{"type":"rule","color":"#000","strokeWidth":1.3},
          "encoding":{
           "x":{"field":"x1","type":"quantitative","scale":{"domain":[0.5,2.5],"nice":false,"zero":false,"padding":0}},"x2":{"field":"x2"},
           "y":{"field":"y","type":"quantitative","scale":{"domain":[-100,100],"nice":false}}}},
         {"data":{"values":[{"x":1.45,"y":93,"t":"*"},{"x":2.01,"y":83.1,"t":"***"},{"x":1.0,"y":-91.4,"t":"***"}]},
          "mark":{"type":"text","baseline":"alphabetic","fontSize":16},
          "encoding":{
           "x":{"field":"x","type":"quantitative","scale":{"domain":[0.5,2.5],"nice":false,"zero":false,"padding":0}},
           "y":{"field":"y","type":"quantitative","scale":{"domain":[-100,100],"nice":false}},
           "text":{"field":"t"}}},
         {"data":{"values":[{"x":-1.442,"y":-14.2}]},
          "mark":{"type":"point","shape":"M0,-1L0.3359,-0.7529L0.1158,-0.7529L0.1158,0.7529L0.3359,0.7529L0,1L-0.3359,0.7529L-0.1158,0.7529L-0.1158,-0.7529L-0.3359,-0.7529Z","size":67081,"filled":true,"opacity":1,"fill":{"gradient":"linear","x1":0,"y1":0,"x2":0,"y2":1,"stops":[{"offset":0,"color":"#78bd45"},{"offset":0.45,"color":"#c3e14a"},{"offset":0.72,"color":"#f6f63c"},{"offset":1,"color":"#fffff4"}]},"stroke":"#4a76c4","strokeWidth":1.2},
          "encoding":{
           "x":{"field":"x","type":"quantitative","scale":{"domain":[0.5,2.5],"nice":false,"zero":false,"padding":0}},
           "y":{"field":"y","type":"quantitative","scale":{"domain":[-100,100],"nice":false}}}},
         {"data":{"values":[{"x":-1.442,"y":29.85,"label":"Towards"},{"x":-1.442,"y":-65.7,"label":"Away"}]},
          "mark":{"type":"text","angle":270,"fontSize":16,"baseline":"middle","align":"center"},
          "encoding":{
           "x":{"field":"x","type":"quantitative","scale":{"domain":[0.5,2.5],"nice":false,"zero":false,"padding":0}},
           "y":{"field":"y","type":"quantitative","scale":{"domain":[-100,100],"nice":false}},
           "text":{"field":"label"}}},
         {"data":{"values":[{"x":1.512,"y":113.6,"t":"Attentional bias"}]},
          "mark":{"type":"text","fontSize":16,"baseline":"alphabetic","align":"center"},
          "encoding":{
           "x":{"field":"x","type":"quantitative","scale":{"domain":[0.5,2.5],"nice":false,"zero":false,"padding":0}},
           "y":{"field":"y","type":"quantitative","scale":{"domain":[-100,100],"nice":false}},
           "text":{"field":"t"}}}
       ]},
       {"data":{"values":[{"r":0}]},
        "mark":{"type":"point","opacity":0},
        "encoding":{"y":{"field":"r","type":"quantitative","scale":{"domain":[-631,631],"nice":false},"axis":{"orient":"right","values":[-600,-400,-200,0,200,400,600],"tickCount":7,"format":"d","title":["Attentional bias","(reaction time in ms)"],"titlePadding":11}}}}
      ]
     }
    ]
   }
  ]
 }
]
}
